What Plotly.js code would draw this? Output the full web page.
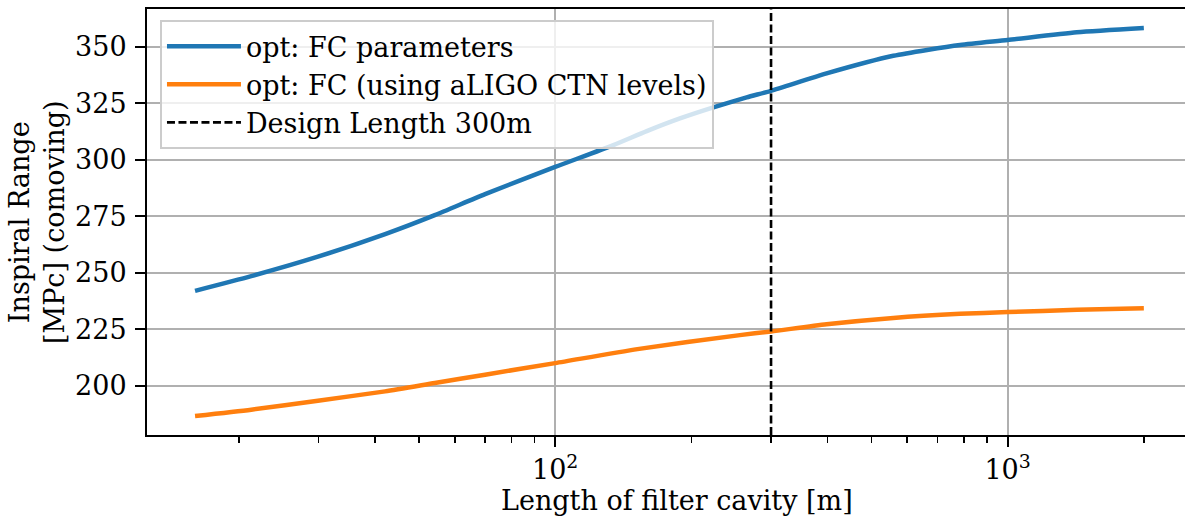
<!DOCTYPE html>
<html>
<head>
<meta charset="utf-8">
<script src="https://cdn.plot.ly/plotly-3.0.1.min.js"></script>
<style>html,body{margin:0;padding:0;background:#fff;}#chart{width:1185px;height:518px;}</style>
</head>
<body>
<div id="chart"></div>
<script>
// Filter cavity length [m] and inspiral range [MPc] (comoving)
var fcLength = [16, 21.3, 29.9, 42.1, 54.2, 70, 100, 134.5, 159.4, 188.7, 223.7, 265, 300, 398, 559, 785, 1000, 1422, 2000];
var fcRange  = [242.0, 248.5, 257.1, 267.1, 275.5, 284.8, 296.8, 306.5, 312.7, 318.3, 323.2, 327.6, 330.5, 338.2, 346.0, 350.8, 353.0, 356.4, 358.3];

var ctnLength = [16, 21.3, 29.9, 42.1, 54.2, 70, 100, 152, 256, 300, 398, 559, 785, 1000, 1422, 2000];
var ctnRange  = [186.6, 189.4, 193.4, 197.5, 201.2, 204.9, 210.0, 216.2, 222.4, 224.0, 227.2, 230.0, 231.8, 232.6, 233.6, 234.3];

var designLength = 300;
var seriesNames = ["opt: FC parameters", "opt: FC (using aLIGO CTN levels)", "Design Length 300m"];
var xTickVals = [100, 1000];
var xTickText = ["10<sup>2</sup>", "10<sup>3</sup>"];
var xMinorVals = [20, 30, 40, 50, 60, 70, 80, 90, 200, 300, 400, 500, 600, 700, 800, 900, 2000];
var yTickVals = [200, 225, 250, 275, 300, 325, 350];
var yRangeLimits = [178.2, 366.7];
var xRangeLimits = [12.53, 2466];

var FONT = "DejaVu Serif, serif";
var FS = 27;

var traces = [
  {x: fcLength, y: fcRange, mode: "lines", name: seriesNames[0], legendgroup: "a",
   line: {color: "#1f77b4", width: 4.5, shape: "spline", smoothing: 0.6}},
  {x: ctnLength, y: ctnRange, mode: "lines", name: seriesNames[1], legendgroup: "b",
   line: {color: "#ff7f0e", width: 4.5, shape: "spline", smoothing: 0.6}},
  {x: [designLength, designLength], y: yRangeLimits, mode: "lines", name: seriesNames[2], legendgroup: "c",
   line: {color: "#000000", width: 2.6, dash: "8px,3.5px"}}
];

var layout = {
  width: 1185, height: 518,
  margin: {l: 147, r: 0, t: 9, b: 83},
  paper_bgcolor: "#ffffff", plot_bgcolor: "#ffffff",
  font: {family: FONT, size: FS, color: "#000000"},
  showlegend: true,
  legend: {
    x: 0.0125, y: 0.974, xanchor: "left", yanchor: "top",
    bgcolor: "rgba(255,255,255,0.8)", bordercolor: "#cccccc", borderwidth: 2,
    font: {family: FONT, size: FS, color: "#000000"},
    tracegroupgap: 0, itemwidth: 74
  },
  xaxis: {
    type: "log",
    range: [Math.log10(xRangeLimits[0]), Math.log10(xRangeLimits[1])],
    tickmode: "array", tickvals: xTickVals, ticktext: xTickText,
    ticks: "outside", ticklen: 10, tickwidth: 2, tickcolor: "#000000",
    showline: true, linecolor: "#000000", linewidth: 2, mirror: true,
    showgrid: true, gridcolor: "#b0b0b0", gridwidth: 2,
    zeroline: false,
    tickfont: {family: FONT, size: FS, color: "#000000"},
    minor: {tickmode: "array", tickvals: xMinorVals, ticks: "outside", ticklen: 5.5, tickwidth: 1.6, tickcolor: "#000000", showgrid: false}
  },
  yaxis: {
    range: yRangeLimits,
    tickmode: "array", tickvals: yTickVals,
    ticks: "outside", ticklen: 10, tickwidth: 2, tickcolor: "#000000",
    showline: true, linecolor: "#000000", linewidth: 2, mirror: false,
    showgrid: true, gridcolor: "#b0b0b0", gridwidth: 2,
    zeroline: false,
    tickfont: {family: FONT, size: FS, color: "#000000"},
    ticklabelstandoff: 3
  },
  annotations: [
    {text: "Length of filter cavity [m]", xref: "paper", yref: "paper", x: 0.5106, y: -0.1526,
     xanchor: "center", yanchor: "middle", showarrow: false, font: {family: FONT, size: FS, color: "#000000"}},
    {text: "Inspiral Range<br>[MPc] (comoving)", xref: "paper", yref: "paper", x: -0.106, y: 0.5,
     xanchor: "center", yanchor: "middle", textangle: -90, showarrow: false,
     font: {family: FONT, size: FS, color: "#000000"}}
  ]
};

Plotly.newPlot("chart", traces, layout, {displayModeBar: false, staticPlot: true});
</script>
</body>
</html>
